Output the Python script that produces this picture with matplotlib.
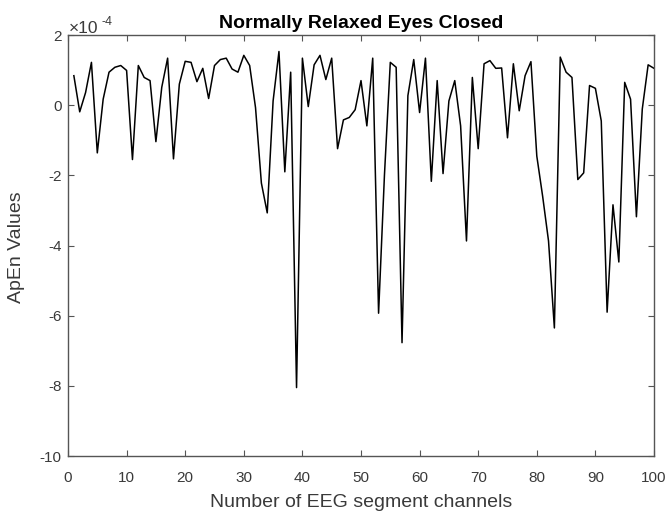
import matplotlib
matplotlib.use("Agg")
import matplotlib.pyplot as plt
import numpy as np
from matplotlib.ticker import FuncFormatter, MultipleLocator

plt.rcParams['font.family'] = ['Liberation Sans', 'DejaVu Sans']
plt.rcParams['axes.unicode_minus'] = False

title = "Normally Relaxed Eyes Closed"
xlabel = "Number of EEG segment channels"
ylabel = "ApEn Values"
scale = 1e-4

channels = list(range(1, 101))
apen_scaled = [
    0.84, -0.19, 0.36, 1.22, -1.36, 0.17, 0.94, 1.08, 1.13, 0.99,
    -1.55, 1.13, 0.79, 0.70, -1.04, 0.51, 1.34, -1.53, 0.60, 1.25,
    1.22, 0.67, 1.05, 0.19, 1.13, 1.30, 1.34, 1.03, 0.94, 1.42,
    1.13, -0.07, -2.22, -3.07, 0.12, 1.53, -1.90, 0.94, -8.05, 1.34,
    -0.04, 1.15, 1.42, 0.73, 1.34, -1.24, -0.42, -0.35, -0.13, 0.70,
    -0.59, 1.34, -5.93, -2.00, 1.22, 1.08, -6.77, 0.27, 1.30, -0.21,
    1.34, -2.17, 0.70, -1.95, 0.12, 0.70, -0.59, -3.87, 0.79, -1.24,
    1.18, 1.27, 1.05, 1.06, -0.93, 1.18, -0.16, 0.84, 1.24, -1.45,
    -2.60, -3.87, -6.35, 1.37, 0.94, 0.79, -2.12, -1.93, 0.56, 0.48,
    -0.45, -5.90, -2.84, -4.47, 0.65, 0.17, -3.18, -0.11, 1.15, 1.05,
]
apen = np.array(apen_scaled) * scale

W, H = 670, 512
fig = plt.figure(figsize=(W / 100, H / 100), dpi=100)
ax = fig.add_axes([68 / W, 1 - 456 / H, (654 - 68) / W, (456 - 35) / H])
ax.plot(channels, apen, color='black', linewidth=1.1)

ax.set_xlim(0, 100)
ax.set_ylim(-10 * scale, 2 * scale)
ax.xaxis.set_major_locator(MultipleLocator(10))
ax.yaxis.set_major_locator(MultipleLocator(2 * scale))
ax.yaxis.set_major_formatter(FuncFormatter(lambda v, p: f"{v/scale:.0f}"))

grey = '#3a3a3a'
for s in ax.spines.values():
    s.set_color('#555555')
    s.set_linewidth(1.0)
ax.tick_params(direction='in', top=True, right=True, length=4, width=0.8,
               colors='#555555', labelcolor=grey, labelsize=11)
ax.tick_params(axis='x', pad=10.5)
ax.tick_params(axis='y', pad=4.5)

ax.set_title(title, fontsize=14, fontweight='bold', color='black', pad=5)
fig.text(361 / W, 1 - 507 / H, xlabel, fontsize=14, color=grey,
         ha='center', va='baseline')
fig.text(17 / W, 1 - 247 / H, ylabel, fontsize=14, color=grey,
         ha='center', va='center', rotation=90)
fig.text(69 / W, 1 - 33.3 / H, "\u00d710", fontsize=12.5, color=grey,
         ha='left', va='baseline')
fig.text(101 / W, 1 - 25 / H, "-4", fontsize=9, color=grey,
         ha='left', va='baseline')

fig.savefig("out.png", dpi=100, facecolor='white')
